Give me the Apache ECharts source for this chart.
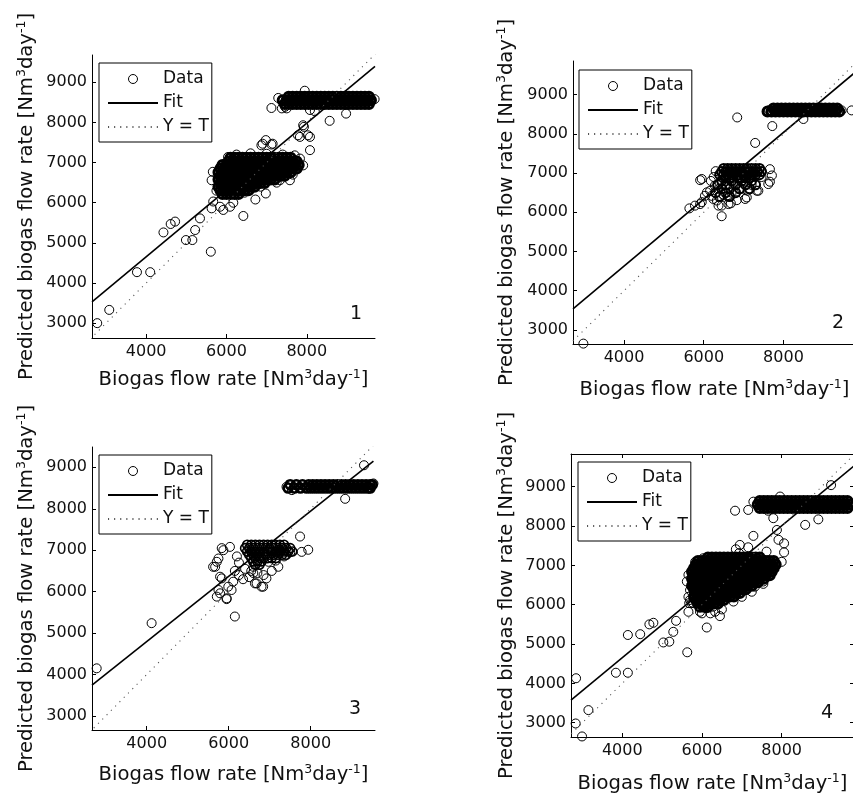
<!DOCTYPE html>
<html><head><meta charset="utf-8">
<script src="https://cdn.jsdelivr.net/npm/echarts@6/dist/echarts.min.js"></script>
<style>html,body{margin:0;padding:0;background:#fff}#c{width:853px;height:795px}</style>
</head><body><div id="c"></div>
<script>
// ---------------- DATA ----------------
const xTicks = [4000, 6000, 8000];
const yTicks = [3000, 4000, 5000, 6000, 7000, 8000, 9000];
const panelLabels = ['1', '2', '3', '4'];
const legendNames = ['Data', 'Fit', 'Y = T'];

// Panel 1: individual points
const p1Points = [[2780,3000],[3080,3330],[3770,4270],[4100,4270],[4430,5260],[4610,5470],[4720,5530],[4990,5070],[5150,5070],[5220,5320],[5340,5610],[5610,4780],[5630,5860],[5670,6030],[5840,5900],[5920,5820],[6090,5900],[6170,6000],[6420,5670],[5630,6560],[5660,6770],[6040,7140],[6900,7470],[6980,7560],[7150,7470],[6870,7430],[7120,7450],[6720,6080],[6980,6230],[7330,6560],[7580,6560],[7830,7100],[7910,6930],[7830,7640],[8080,7640],[7780,7680],[8080,7310],[7930,7890],[8030,7680],[7910,7930],[7380,8350],[7460,8390],[7550,8560],[7120,8360],[7290,8610],[7500,8350],[8080,8310],[8570,8040],[8980,8220],[7950,8790],[9690,8580],[8200,8280],[6250,7200],[6600,7230],[7000,7220],[7400,7200],[7700,7180],[5750,6300],[6450,6250],[6850,6400],[7250,6500],[7650,6700]];
// Panel 1: dense cloud, rows of [y, x values]
const p1Cloud = [
 [7120,[6100,6200,6300,6400,6500,6600,6700,6800,6900,7000,7100,7200,7300,7400,7500,7600]],
 [7030,[6050,6150,6250,6350,6450,6550,6650,6750,6850,6950,7050,7150,7250,7350,7450,7550,7650,7750]],
 [6940,[5900,6000,6100,6200,6300,6400,6500,6600,6700,6800,6900,7000,7100,7200,7300,7400,7500,7600,7700,7800]],
 [6850,[5850,5950,6050,6150,6250,6350,6450,6550,6650,6750,6850,6950,7050,7150,7250,7350,7450,7550,7650,7750]],
 [6760,[5800,5900,6000,6100,6200,6300,6400,6500,6600,6700,6800,6900,7000,7100,7200,7300,7400,7500,7600]],
 [6670,[5850,5950,6050,6150,6250,6350,6450,6550,6650,6750,6850,6950,7050,7150,7250,7350,7450]],
 [6580,[5800,5900,6000,6100,6200,6300,6400,6500,6600,6700,6800,6900,7000,7100,7200]],
 [6490,[5850,5950,6050,6150,6250,6350,6450,6550,6650,6750,6850,6950]],
 [6400,[5800,5900,6000,6100,6200,6300,6400,6500,6600,6700]],
 [6310,[5850,5950,6050,6150,6250,6350,6450,6550]],
 [6220,[5900,6000,6100,6200,6300]]
];
const p1Band = [
 [8640,[7550,7650,7750,7850,7950,8050,8150,8250,8350,8450,8550,8650,8750,8850,8950,9050,9150,9250,9350,9450,9550]],
 [8550,[7400,7500,7600,7700,7800,7900,8000,8100,8200,8300,8400,8500,8600,8700,8800,8900,9000,9100,9200,9300,9400,9500,9600]],
 [8460,[7450,7550,7650,7750,7850,7950,8050,8150,8250,8350,8450,8550,8650,8750,8850,8950,9050,9150,9250,9350,9450,9550]]
];
const p1Fit = [[2650,3530],[9700,9395]];

// Panel 2
const p2Points = [[2980,2650],[6840,8420],[7290,7770],[7720,8200],[7660,7100],[7660,6780],[7710,6940],[7370,6550],[7620,6720],[7330,6550],[7080,6380],[7040,6340],[6830,6310],[6450,5900],[6620,6210],[5910,6820],[5950,6850],[5640,6100],[5780,6170],[5910,6210],[5950,6260],[6030,6420],[6080,6510],[6160,6550],[6200,6420],[6280,6680],[6330,6300],[6370,6170],[6240,6340],[6450,6170],[6680,6230],[9460,8600],[9710,8600],[7640,8600],[8500,8380],[6380,6600],[6500,6450],[6700,6500],[6950,6600],[7200,6700],[7450,6900],[6250,6900],[6300,7050],[6400,6750],[6550,6650],[6850,6750],[7100,6550],[6600,6400],[6180,6800]];
const p2Cloud = [
 [7120,[6500,6600,6700,6800,6900,7000,7100,7200,7300,7400]],
 [7040,[6450,6550,6650,6750,6850,6950,7050,7150,7250,7350,7450]],
 [6960,[6400,6500,6600,6700,6800,6900,7000,7100,7200,7300,7400]],
 [6880,[6550,6650,6750,6850,6950,7050,7150]],
 [6800,[6450,6700,6950,7200]],
 [6700,[6350,6550,6800,7050,7300]],
 [6600,[6450,6650,6900,7150]],
 [6500,[6300,6550,6800]],
 [6400,[6400,6650]]
];
const p2Band = [
 [8650,[7750,7850,7950,8050,8150,8250,8350,8450,8550,8650,8750,8850,8950,9050,9150,9250,9350]],
 [8570,[7600,7700,7800,7900,8000,8100,8200,8300,8400,8500,8600,8700,8800,8900,9000,9100,9200,9300,9400]]
];
const p2Fit = [[2720,3536],[9820,9589]];

// Panel 3
const p3Points = [[2780,4150],[4120,5240],[6150,5400],[5950,5820],[5710,5880],[5750,6040],[5790,5960],[5670,6600],[5750,6800],[5830,7050],[6030,7080],[5870,7000],[5830,6320],[5790,6360],[6110,6240],[6070,6040],[5990,6120],[5950,5840],[6680,6200],[6840,6120],[6640,6200],[6800,6120],[6920,6320],[6970,6720],[7210,6600],[7740,7330],[7940,7010],[7780,6960],[8840,8240],[9300,9050],[7410,8530],[7540,8450],[9530,8610],[5620,6600],[5710,6720],[6250,6400],[6350,6300],[6500,6350],[6400,6550],[6550,6500],[6700,6450],[6850,6400],[7050,6500],[7150,6750],[7350,6850],[7500,6950],[6250,6700],[6200,6850],[6150,6500],[6600,6600],[6600,6450]];
const p3Cloud = [
 [7130,[6450,6550,6650,6750,6850,6950,7050,7150,7250,7350]],
 [7050,[6400,6500,6600,6700,6800,6900,7000,7100,7200,7300,7400,7500]],
 [6970,[6450,6550,6650,6750,6850,6950,7050,7150,7250,7350,7450,7550]],
 [6890,[6500,6600,6700,6800,6900,7000,7100,7200,7300,7400]],
 [6810,[6550,6650,6750,6850,6950,7050,7150]],
 [6730,[6600,6700,6800]],
 [6650,[6650,6750]]
];
const p3Band = [
 [8580,[7500,7650,7800,7950,8050,8150,8250,8350,8450,8550,8650,8750,8850,8950,9050,9150,9250,9350,9450,9500]],
 [8500,[7450,7600,7750,7900,8000,8100,8200,8300,8400,8500,8600,8700,8800,8900,9000,9100,9200,9300,9400,9450]]
];
const p3Fit = [[2666,3743],[9530,9152]];

// Panel 4
const p4Points = [[2830,2980],[2990,2650],[3150,3320],[2840,4130],[3840,4270],[4140,4270],[4140,5230],[4450,5250],[4680,5500],[4780,5540],[5030,5040],[5180,5060],[5280,5310],[5350,5590],[5630,4790],[5660,5820],[5680,6040],[6120,5420],[6450,5710],[6500,5880],[6000,5780],[6210,5780],[6330,5820],[6790,6080],[7000,6200],[7250,6330],[7540,6530],[6830,8390],[7160,8410],[7660,8390],[7790,8200],[8590,8030],[8920,8170],[9240,9040],[7960,8750],[7290,8620],[7290,7750],[6950,7520],[6850,7410],[6930,7310],[7160,7460],[7620,7350],[8060,7560],[8060,7330],[7920,7650],[7880,7900],[7290,6670],[7330,6460],[7540,6590],[8000,7090],[7830,7050],[5660,6760],[5620,6590],[5700,6370],[5660,6200],[5740,6040],[5700,6120],[5780,6040],[5950,5820],[6120,5910],[6280,5950],[5830,7090],[6030,7180]];
const p4Cloud = [
 [7200,[6150,6250,6350,6450,6550,6650,6750,6850,6950,7050,7150,7250,7350,7450]],
 [7110,[5900,6000,6100,6200,6300,6400,6500,6600,6700,6800,6900,7000,7100,7200,7300,7400,7500,7600,7700,7800]],
 [7020,[5850,5950,6050,6150,6250,6350,6450,6550,6650,6750,6850,6950,7050,7150,7250,7350,7450,7550,7650,7750,7850]],
 [6930,[5800,5900,6000,6100,6200,6300,6400,6500,6600,6700,6800,6900,7000,7100,7200,7300,7400,7500,7600,7700,7800]],
 [6840,[5750,5850,5950,6050,6150,6250,6350,6450,6550,6650,6750,6850,6950,7050,7150,7250,7350,7450,7550,7650,7750]],
 [6750,[5800,5900,6000,6100,6200,6300,6400,6500,6600,6700,6800,6900,7000,7100,7200,7300,7400,7500,7600,7700]],
 [6660,[5750,5850,5950,6050,6150,6250,6350,6450,6550,6650,6750,6850,6950,7050,7150,7250,7350,7450,7550]],
 [6570,[5800,5900,6000,6100,6200,6300,6400,6500,6600,6700,6800,6900,7000,7100,7200,7300,7400]],
 [6480,[5750,5850,5950,6050,6150,6250,6350,6450,6550,6650,6750,6850,6950,7050,7150,7250]],
 [6390,[5800,5900,6000,6100,6200,6300,6400,6500,6600,6700,6800,6900,7000,7100]],
 [6300,[5850,5950,6050,6150,6250,6350,6450,6550,6650,6750,6850,6950]],
 [6210,[5800,5900,6000,6100,6200,6300,6400,6500,6600,6700,6800]],
 [6120,[5850,5950,6050,6150,6250,6350,6450,6550]],
 [6030,[5900,6000,6100,6200,6300,6400]],
 [5950,[5950,6050,6150]]
];
const p4Band = [
 [8640,[7450,7550,7650,7750,7850,7950,8050,8150,8250,8350,8450,8550,8650,8750,8850,8950,9050,9150,9250,9350,9450,9550,9650]],
 [8550,[7400,7500,7600,7700,7800,7900,8000,8100,8200,8300,8400,8500,8600,8700,8800,8900,9000,9100,9200,9300,9400,9500,9600,9700]],
 [8460,[7450,7550,7650,7750,7850,7950,8050,8150,8250,8350,8450,8550,8650,8750,8850,8950,9050,9150,9250,9350,9450,9550,9650]]
];
const p4Fit = [[2713,3576],[9815,9528]];

const identityLine = [[2500,2500],[10000,10000]];

// ---------------- LAYOUT ----------------
const F = 'DejaVu Sans';
const TXT = '#111';
const panels = [
  {grid:{left:92,top:55,width:283,height:283}, x:[2650,9700], y:[2630,9680], xGap:30, yGap:53, leg:{left:99,top:63}, num:[356,314], cloudW:3, bandW:3,
   pts:p1Points, cloud:p1Cloud, band:p1Band, fit:p1Fit},
  {grid:{left:573,top:61,width:283,height:283}, x:[2720,9820], y:[2640,9860], xGap:34, yGap:54, leg:{left:579,top:70}, num:[838,323], cloudW:2, bandW:3,
   pts:p2Points, cloud:p2Cloud, band:p2Band, fit:p2Fit},
  {grid:{left:92,top:447,width:283,height:283}, x:[2666,9568], y:[2662,9490], xGap:33, yGap:53, leg:{left:99,top:455}, num:[355,709], cloudW:1.6, bandW:2.6,
   pts:p3Points, cloud:p3Cloud, band:p3Band, fit:p3Fit},
  {grid:{left:571,top:454,width:283,height:283}, x:[2713,9815], y:[2636,9832], xGap:35, yGap:52, leg:{left:578,top:462}, num:[827,713], cloudW:3, bandW:3,
   pts:p4Points, cloud:p4Cloud, band:p4Band, fit:p4Fit}
];

function rowsToPairs(rows) {
  const out = [];
  rows.forEach(r => r[1].forEach(x => out.push([x, r[0]])));
  return out;
}

const xName = '{n|Biogas flow rate [Nm}{s|3}{n|day}{s|-1}{n|]}';
const yName = '{n|Predicted biogas flow rate [Nm}{s|3}{n|day}{s|-1}{n|]}';
const nameRich = {
  n: {fontSize: 19.6, fontFamily: F, color: TXT, lineHeight: 24},
  s: {fontSize: 12.5, fontFamily: F, color: TXT, lineHeight: 14, verticalAlign: 'top'}
};
const plainLabel = v => String(v);
const clearStyle = {color: 'rgba(0,0,0,0)', borderColor: 'rgba(0,0,0,0)', borderWidth: 0};

function ringSeries(name, i, data, w) {
  return {
    type: 'scatter', name: name, xAxisIndex: i, yAxisIndex: i, data: data,
    symbol: 'circle', symbolSize: 9, silent: true, progressive: 0, large: false,
    itemStyle: {color: 'rgba(0,0,0,0)', borderColor: '#000', borderWidth: w, opacity: 1},
    z: 2
  };
}

const grids = [], xAxes = [], yAxes = [], series = [], legends = [], graphics = [];
panels.forEach((p, i) => {
  grids.push(Object.assign({outerBoundsMode: 'none', containLabel: false}, p.grid));
  xAxes.push({
    type: 'value', gridIndex: i, min: p.x[0], max: p.x[1], position: 'bottom',
    axisLine: {show: true, onZero: false, lineStyle: {color: '#000', width: 1}},
    axisTick: {show: true, inside: true, length: 4, customValues: xTicks, lineStyle: {color: '#000'}},
    axisLabel: {customValues: xTicks, formatter: plainLabel, fontSize: 16, fontFamily: F, color: TXT, margin: 6},
    splitLine: {show: false},
    name: xName, nameLocation: 'middle', nameGap: p.xGap, nameTextStyle: {rich: nameRich}
  });
  yAxes.push({
    type: 'value', gridIndex: i, min: p.y[0], max: p.y[1], position: 'left',
    axisLine: {show: true, onZero: false, lineStyle: {color: '#000', width: 1}},
    axisTick: {show: true, inside: true, length: 4, customValues: yTicks, lineStyle: {color: '#000'}},
    axisLabel: {customValues: yTicks, formatter: plainLabel, fontSize: 16, fontFamily: F, color: TXT, margin: 5},
    splitLine: {show: false},
    name: yName, nameLocation: 'middle', nameRotate: 90, nameGap: p.yGap, nameTextStyle: {rich: nameRich}
  });
  series.push(ringSeries(legendNames[0], i, p.pts, 1));
  series.push(ringSeries(legendNames[0], i, rowsToPairs(p.cloud), p.cloudW));
  series.push(ringSeries(legendNames[0], i, rowsToPairs(p.band), p.bandW));
  series.push({
    type: 'line', name: legendNames[1], xAxisIndex: i, yAxisIndex: i, data: p.fit,
    symbol: 'none', silent: true, clip: true, itemStyle: clearStyle,
    lineStyle: {color: '#000', width: 1.6, type: 'solid'}, z: 3
  });
  series.push({
    type: 'line', name: legendNames[2], xAxisIndex: i, yAxisIndex: i, data: identityLine,
    symbol: 'none', silent: true, clip: true, itemStyle: clearStyle,
    lineStyle: {color: '#555', width: 1.1, type: [1.1, 5]}, z: 3
  });
  legends.push({
    data: [
      {name: legendNames[0], itemStyle: {color: 'rgba(0,0,0,0)', borderColor: '#000', borderWidth: 1}},
      {name: legendNames[1], itemStyle: clearStyle},
      {name: legendNames[2], itemStyle: clearStyle}
    ],
    orient: 'vertical', left: p.leg.left, top: p.leg.top,
    selectedMode: false, itemWidth: 50, itemHeight: 9, itemGap: 6,
    padding: [7, 3, 6, 8], borderColor: '#000', borderWidth: 1, backgroundColor: '#fff',
    textStyle: {fontSize: 17, fontFamily: F, color: TXT, lineHeight: 18},
    z: 10
  });
  graphics.push({
    type: 'text', x: p.num[0], y: p.num[1], z: 10,
    style: {text: panelLabels[i], fontSize: 19, fontFamily: F, fill: TXT, align: 'center', verticalAlign: 'middle'}
  });
});

// panel 4 has a full box: extra top and right axes
xAxes.push({
  type: 'value', gridIndex: 3, min: panels[3].x[0], max: panels[3].x[1], position: 'top',
  axisLine: {show: true, onZero: false, lineStyle: {color: '#000', width: 1}},
  axisTick: {show: true, inside: true, length: 4, customValues: xTicks, lineStyle: {color: '#000'}},
  axisLabel: {show: false}, splitLine: {show: false}
});
yAxes.push({
  type: 'value', gridIndex: 3, min: panels[3].y[0], max: panels[3].y[1], position: 'right',
  axisLine: {show: true, onZero: false, lineStyle: {color: '#000', width: 1}},
  axisTick: {show: true, inside: true, length: 4, customValues: yTicks, lineStyle: {color: '#000'}},
  axisLabel: {show: false}, splitLine: {show: false}
});

const chart = echarts.init(document.getElementById('c'), null, {renderer: 'canvas'});
chart.setOption({
  animation: false,
  backgroundColor: '#fff',
  grid: grids, xAxis: xAxes, yAxis: yAxes, series: series, legend: legends,
  graphic: graphics, tooltip: {show: false}
});
</script></body></html>
